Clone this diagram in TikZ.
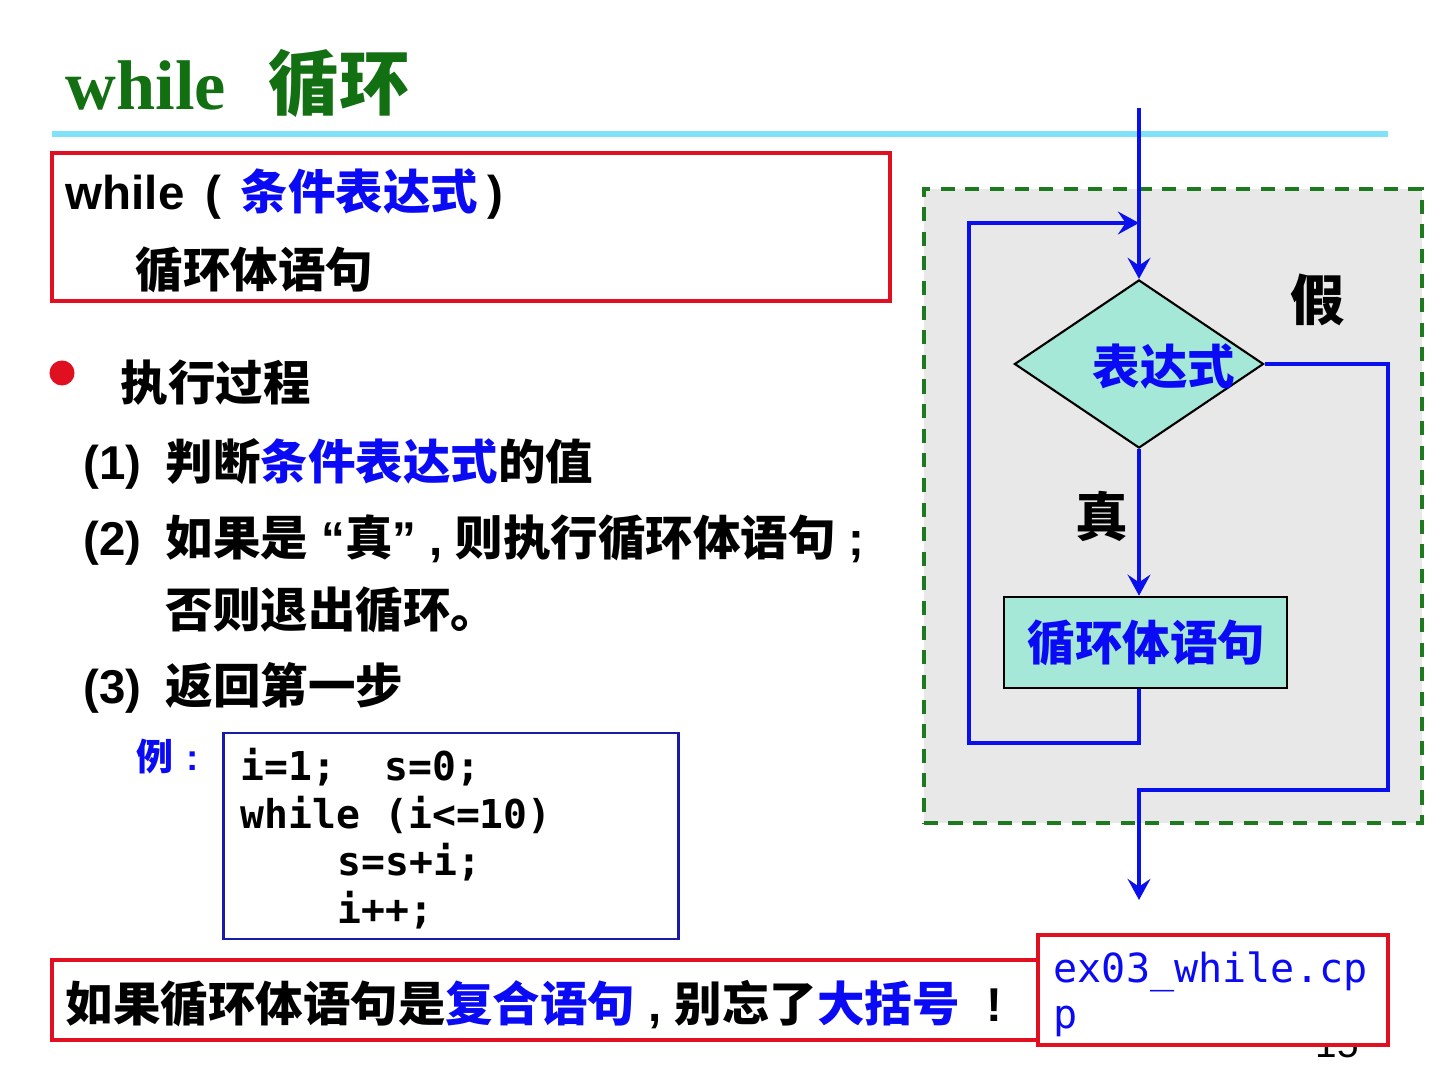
\documentclass[tikz,border=0pt]{standalone}
\usepackage{fontspec}
\setmainfont{Liberation Sans}
\newfontfamily\cjk{Noto Sans CJK SC}
\newfontfamily\codefont{DejaVu Sans Mono}
\newfontfamily\titlefont{Liberation Serif}
\usepackage{tikz}
\usetikzlibrary{shapes.geometric,arrows.meta,positioning}
\usepackage{xcolor}
\definecolor{TitleGreen}{HTML}{127012}
\definecolor{RuleCyan}{HTML}{80E2F8}
\definecolor{BoxRed}{HTML}{E01020}
\definecolor{TextBlue}{HTML}{0A0AF5}
\definecolor{CodeBlue}{HTML}{1A1AA8}
\definecolor{FlowBlue}{HTML}{0A10EC}
\definecolor{DashGreen}{HTML}{1E7A1E}
\definecolor{PanelGrey}{HTML}{E8E8E8}
\definecolor{FlowTeal}{HTML}{A6E8D8}
\newcommand{\zh}[1]{{\cjk #1}}
\tikzset{
    % Base text style
    basetext/.style={
        inner sep=0pt,
        anchor=base west,
        font=\fontsize{13.5}{16}\selectfont\bfseries
    },
    % Blue text
    bluetext/.style={
        basetext,
        text=TextBlue
    },
    % Code line
    codeline/.style={
        inner sep=0pt,
        anchor=base west,
        font=\codefont\bfseries\fontsize{11.3}{13.5}\selectfont
    },
    % Red frame
    redbox/.style={
        draw=BoxRed,
        line width=1.2pt,
        inner sep=0pt
    },
    % Flow chart shapes
    decisionnode/.style={
        diamond,
        draw=black,
        fill=FlowTeal,
        line width=0.6pt,
        inner sep=0pt,
        minimum width=2.49cm,
        minimum height=1.68cm
    },
    bodynode/.style={
        rectangle,
        draw=black,
        fill=FlowTeal,
        line width=0.7pt,
        inner sep=0pt,
        minimum width=2.83cm,
        minimum height=0.91cm
    },
    % Arrow styles
    flowline/.style={
        line width=1.3pt,
        draw=FlowBlue
    },
    flowarrow/.style={
        flowline,
        -{Stealth[length=6pt,width=6.5pt,inset=2.2pt]}
    }
}

\begin{document}
\begin{tikzpicture}[x=0.01cm, y=-0.01cm]
        \useasboundingbox (0,0) rectangle (1440,1080);

        % Title
        \node[inner sep=0pt, anchor=base west, text=TitleGreen, font=\titlefont\bfseries\fontsize{20}{24}\selectfont] (title) at (65,110) {while};
        \node[inner sep=0pt, anchor=base west, text=TitleGreen, font=\cjk\bfseries\fontsize{20}{24}\selectfont] (titlezh) at (268,110) {循环};
        \draw[RuleCyan, line width=1.7pt] (52,134) -- (1388,134);

        % Syntax
        \node[redbox, minimum width=8.38cm, minimum height=1.48cm] (syntax) at (471,227) {};
        \node[basetext] (syn1) at (65,210) {while\hspace{0.45em}(\hspace{0.4em}\textcolor{TextBlue}{\zh{条件表达式}}\hspace{0.2em})};
        \node[basetext] (syn2) at (135,288) {\zh{循环体语句}};

        % Steps
        \node[circle, fill=BoxRed, minimum size=0.25cm, inner sep=0pt] (dot) at (62,373) {};
        \node[basetext] (steps) at (120,401) {\zh{执行过程}};
        \node[basetext] (n1) at (83,480) {(1)};
        \node[basetext] (s1) at (165,480) {\zh{判断\textcolor{TextBlue}{条件表达式}的值}};
        \node[basetext] (n2) at (83,556) {(2)};
        \node[basetext] (s2) at (165,556) {\zh{如果是} “\zh{真}” , \zh{则执行循环体语句} ;};
        \node[basetext] (s2b) at (165,628) {\zh{否则退出循环。}};
        \node[basetext] (n3) at (83,703) {(3)};
        \node[basetext] (s3) at (165,703) {\zh{返回第一步}};

        % Example
        \node[inner sep=0pt, anchor=base west, text=TextBlue, font=\fontsize{10.5}{12}\selectfont\bfseries] (ex) at (136,771) {\zh{例}\hspace{0.35em}:};
        \node[draw=CodeBlue, line width=0.8pt, minimum width=4.54cm, minimum height=2.06cm] (code) at (451,836) {};
        \node[codeline] (c1) at (240,780) {i=1;\ \ s=0;};
        \node[codeline] (c2) at (240,828) {while (i<=10)};
        \node[codeline] (c3) at (337,875) {s=s+i;};
        \node[codeline] (c4) at (337,923) {i++;};

        % Note
        \node[redbox, minimum width=9.88cm, minimum height=0.80cm] (note) at (546,1000) {};
        \node[basetext] (notetext) at (65,1021) {\zh{如果循环体语句是\textcolor{TextBlue}{复合语句}} , \zh{别忘了\textcolor{TextBlue}{大括号}} \ !};

        % Page number and file
        \node[inner sep=0pt, font=\fontsize{11}{13}\selectfont] (page) at (1337,1044) {15};
        \node[redbox, line width=1pt, fill=white, minimum width=3.50cm, minimum height=1.10cm] (file) at (1213,990) {};
        \node[inner sep=0pt, anchor=base west, text=TextBlue, font=\codefont\fontsize{11.4}{13.5}\selectfont] (f1) at (1053,982) {ex03\_while.cp};
        \node[inner sep=0pt, anchor=base west, text=TextBlue, font=\codefont\fontsize{11.4}{13.5}\selectfont] (f2) at (1053,1028) {p};

        % Flow chart
        \node[draw=DashGreen, fill=PanelGrey, line width=1.2pt, dash pattern=on 4pt off 3pt, minimum width=4.98cm, minimum height=6.34cm] (panel) at (1173,506) {};
        \node[decisionnode] (cond) at (1139,364) {};
        \node[bluetext] (condtext) at (1092,385) {\zh{表达式}};
        \node[bodynode] (body) at (1145.5,642.5) {};
        \node[bluetext] (bodytext) at (1027,661) {\zh{循环体语句}};
        \node[inner sep=0pt, anchor=base west, font=\cjk\bfseries\fontsize{15.5}{18}\selectfont] (false) at (1290,321) {假};
        \node[inner sep=0pt, anchor=base west, font=\cjk\bfseries\fontsize{15}{18}\selectfont] (true) at (1075,537) {真};

        \coordinate (start) at (1139,108);
        \coordinate (loopL) at (969,743);
        \coordinate (loopT) at (1139,223);
        \coordinate (exitR) at (1388,790);
        \coordinate (exit) at (1139,900);
        \draw[flowarrow] (start) -- (cond.north);
        \draw[flowarrow] (cond.south) -- (cond.south |- body.north);
        \draw[flowarrow] (cond.south |- body.south) |- (loopL) |- (loopT);
        \draw[flowarrow] (cond.east) -| (exitR) -| (exit);
    \end{tikzpicture}
\end{document}
